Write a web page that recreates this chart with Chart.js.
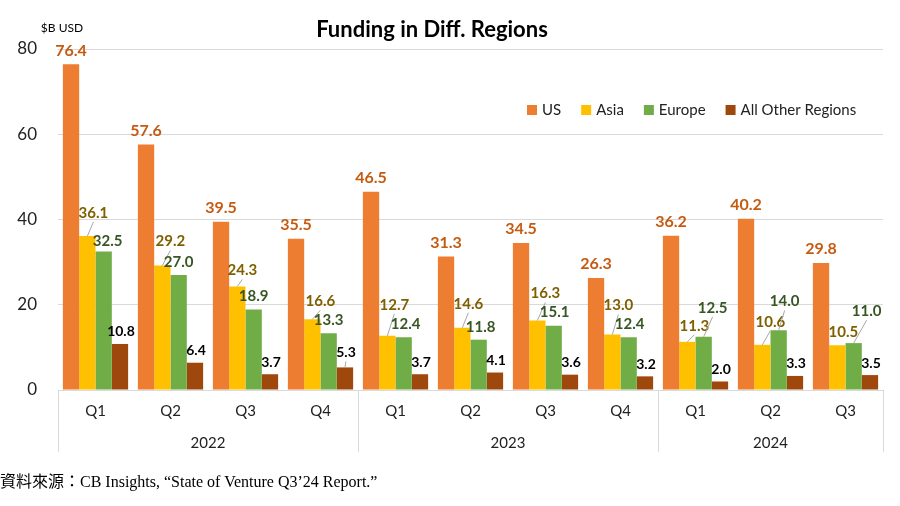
<!DOCTYPE html>
<html>
<head>
<meta charset="utf-8">
<script src="https://cdn.jsdelivr.net/npm/chart.js@4.4.1/dist/chart.umd.min.js"></script>
<style>
  body { margin: 0; background: #fff; }
  #wrap { position: relative; width: 900px; height: 506px; }
  #note {
    position: absolute; left: 0; top: 471px; line-height: 22px;
    font-family: "Liberation Serif", "Noto Sans CJK TC", serif;
    font-size: 16px; color: #000; white-space: nowrap;
  }
</style>
</head>
<body>
<div id="wrap">
  <canvas id="myChart" width="900" height="506"></canvas>
  <div id="note">資料來源：CB Insights, “State of Venture Q3’24 Report.”</div>
</div>
<script>
// Data
const quarters = ["Q1", "Q2", "Q3", "Q4", "Q1", "Q2", "Q3", "Q4", "Q1", "Q2", "Q3"];
const years = ["2022", "2023", "2024"];
const quartersPerYear = [4, 4, 3];
const usFunding = [76.4, 57.6, 39.5, 35.5, 46.5, 31.3, 34.5, 26.3, 36.2, 40.2, 29.8];
const asiaFunding = [36.1, 29.2, 24.3, 16.6, 12.7, 14.6, 16.3, 13.0, 11.3, 10.6, 10.5];
const europeFunding = [32.5, 27.0, 18.9, 13.3, 12.4, 11.8, 15.1, 12.4, 12.5, 14.0, 11.0];
const otherFunding = [10.8, 6.4, 3.7, 5.3, 3.7, 4.1, 3.6, 3.2, 2.0, 3.3, 3.5];
const yTicks = [0, 20, 40, 60, 80];

// label offsets from the bar top (px), the hand-dragged ones from the original
const asiaLabelShift = [[6,-23],[8,-24],[5,-16],[8,-18],[7,-31],[6,-24],[8,-27],[6,-29],[7,-16],[8,-23],[6,-13]];
const europeLabelShift = [[4,-10],[0,-13],[0,-13],[0,-13],[2,-13],[2,-13],[1,-13],[1,-13],[9,-29],[6,-29],[13,-32]];

const FONT = "Lato, 'Open Sans', sans-serif";

const labelStyles = [
  { color: "#C55A11", size: 16, shift: i => [0, -14] },
  { color: "#7F6000", size: 15, shift: i => asiaLabelShift[i] },
  { color: "#375623", size: 15, shift: i => europeLabelShift[i] },
  { color: "#000000", size: 14, shift: i => (i === 3 ? [1, -15] : [1, -12]) },
];

const extras = {
  id: "extras",
  afterDatasetsDraw(chart) {
    const ctx = chart.ctx;
    ctx.save();
    chart.data.datasets.forEach((ds, d) => {
      const meta = chart.getDatasetMeta(d);
      const st = labelStyles[d];
      meta.data.forEach((bar, i) => {
        const [dx, dy] = st.shift(i);
        const lx = bar.x + dx, ly = bar.y + dy;
        if (dy <= -15) {
          ctx.strokeStyle = "#A6A6A6";
          ctx.lineWidth = 1;
          ctx.beginPath();
          ctx.moveTo(bar.x, bar.y);
          ctx.lineTo(lx, ly + 9);
          ctx.stroke();
        }
        ctx.font = "bold " + st.size + "px " + FONT;
        ctx.fillStyle = st.color;
        ctx.textAlign = "center";
        ctx.textBaseline = "middle";
        ctx.fillText(ds.data[i].toFixed(1), lx, ly);
      });
    });
    ctx.restore();
  },
  afterDraw(chart) {
    const ctx = chart.ctx;
    const xs = chart.scales.x;
    const step = (xs.right - xs.left) / quarters.length;
    ctx.save();

    // year row + separators
    ctx.strokeStyle = "#D9D9D9";
    ctx.lineWidth = 1;
    ctx.font = "15px " + FONT;
    ctx.fillStyle = "#222";
    ctx.textAlign = "center";
    ctx.textBaseline = "middle";
    let idx = 0;
    const sep = x => {
      ctx.beginPath();
      ctx.moveTo(Math.round(x) + 0.5, xs.top);
      ctx.lineTo(Math.round(x) + 0.5, xs.top + 62);
      ctx.stroke();
    };
    sep(xs.left);
    years.forEach((y, k) => {
      const x0 = xs.left + idx * step;
      idx += quartersPerYear[k];
      const x1 = xs.left + idx * step;
      ctx.fillText(y, (x0 + x1) / 2, 443);
      sep(x1);
    });

    // title and unit
    ctx.fillStyle = "#000";
    ctx.font = "bold 22px " + FONT;
    ctx.textBaseline = "alphabetic";
    ctx.fillText("Funding in Diff. Regions", 432, 37);
    ctx.font = "12px " + FONT;
    ctx.fillText("$B USD", 62, 32);

    // legend inside the plot
    ctx.font = "15px " + FONT;
    ctx.textAlign = "left";
    ctx.textBaseline = "middle";
    let lx = 527;
    chart.data.datasets.forEach(ds => {
      ctx.fillStyle = ds.backgroundColor;
      ctx.fillRect(lx, 105, 10, 10);
      lx += 15;
      ctx.fillStyle = "#222";
      ctx.fillText(ds.label, lx, 110);
      lx += ctx.measureText(ds.label).width + 20;
    });
    ctx.restore();
  }
};

new Chart(document.getElementById("myChart").getContext("2d"), {
  type: "bar",
  data: {
    labels: quarters,
    datasets: [
      { label: "US", data: usFunding, backgroundColor: "#ED7D31" },
      { label: "Asia", data: asiaFunding, backgroundColor: "#FFC000" },
      { label: "Europe", data: europeFunding, backgroundColor: "#70AD47" },
      { label: "All Other Regions", data: otherFunding, backgroundColor: "#9E480E" },
    ],
  },
  options: {
    responsive: false,
    animation: false,
    layout: { padding: { top: 49, right: 17, left: 0, bottom: 0 } },
    datasets: { bar: { categoryPercentage: 0.87, barPercentage: 1.0 } },
    plugins: { legend: { display: false }, tooltip: { enabled: false } },
    scales: {
      x: {
        grid: { display: false, drawTicks: false },
        border: { display: true, color: "#D9D9D9" },
        ticks: { color: "#222", font: { family: FONT, size: 15 }, padding: 12, maxRotation: 0, autoSkip: false },
        afterFit: s => { s.height = 116; },
      },
      y: {
        min: 0,
        max: 80,
        afterBuildTicks: s => { s.ticks = yTicks.map(v => ({ value: v })); },
        grid: { color: "#D9D9D9", drawTicks: false },
        border: { display: false },
        ticks: { color: "#222", font: { family: FONT, size: 17 }, padding: 21 },
        afterFit: s => { s.width = 58; },
      },
    },
  },
  plugins: [extras],
});
</script>
</body>
</html>
